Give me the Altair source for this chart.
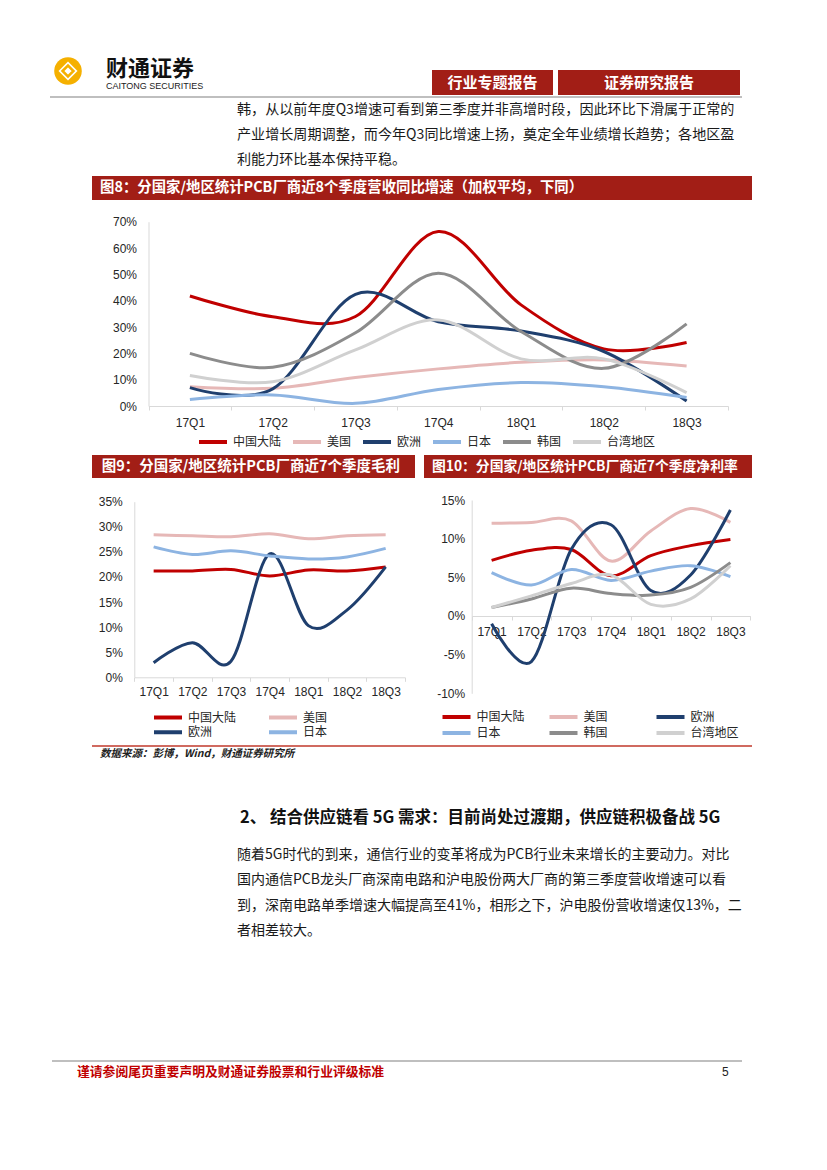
import altair as alt
import pandas as pd

# ---------------- data ----------------
quarters = ["17Q1", "17Q2", "17Q3", "17Q4", "18Q1", "18Q2", "18Q3"]
series6 = ["中国大陆", "美国", "欧洲", "日本", "韩国", "台湾地区"]
series4 = ["中国大陆", "美国", "欧洲", "日本"]

# Fig 8: revenue YoY growth (%)
rev_cn = [41.8, 33.9, 34.0, 66.3, 38.4, 21.7, 24.1]
rev_us = [7.3, 6.7, 10.8, 14.1, 16.6, 17.5, 15.2]
rev_eu = [7.0, 6.5, 42.4, 32.0, 28.5, 20.7, 1.9]
rev_jp = [2.5, 4.2, 1.0, 6.3, 8.9, 7.3, 3.2]
rev_kr = [20.0, 14.7, 27.8, 50.4, 28.3, 14.3, 31.2]
rev_tw = [11.6, 9.2, 21.3, 32.7, 17.9, 17.9, 5.1]

# Fig 9: gross margin (%)
gm_cn = [21.2, 21.2, 21.5, 20.2, 21.4, 21.2, 22.0]
gm_us = [28.4, 28.2, 28.0, 28.6, 27.6, 28.2, 28.4]
gm_eu = [2.9, 6.9, 3.2, 24.6, 10.3, 13.4, 22.0]
gm_jp = [26.0, 24.5, 25.2, 24.2, 23.6, 24.0, 25.7]

# Fig 10: net margin (%)
nm_cn = [7.2, 8.5, 8.6, 5.2, 7.8, 9.1, 9.9]
nm_us = [12.0, 12.1, 12.3, 7.1, 11.0, 13.9, 12.1]
nm_eu = [-1.0, -5.9, 8.6, 11.8, 3.3, 5.3, 13.7]
nm_jp = [5.6, 4.0, 6.0, 4.6, 5.8, 6.5, 5.1]
nm_kr = [1.1, 2.2, 3.6, 2.9, 2.7, 3.7, 6.9]
nm_tw = [1.1, 2.6, 4.2, 5.3, 1.5, 2.2, 6.5]

ticks8 = [0, 10, 20, 30, 40, 50, 60, 70]
ticks9 = [0, 5, 10, 15, 20, 25, 30, 35]
ticks10 = [-10, -5, 0, 5, 10, 15]

# ---------------- texts ----------------
brand_cn = "财通证券"
brand_en = "CAITONG SECURITIES"
tag1 = "行业专题报告"
tag2 = "证券研究报告"
para1 = [
    "韩，从以前年度Q3增速可看到第三季度并非高增时段，因此环比下滑属于正常的",
    "产业增长周期调整，而今年Q3同比增速上扬，奠定全年业绩增长趋势；各地区盈",
    "利能力环比基本保持平稳。",
]
title8 = "图8：分国家/地区统计PCB厂商近8个季度营收同比增速（加权平均，下同）"
title9 = "图9：分国家/地区统计PCB厂商近7个季度毛利"
title10 = "图10：分国家/地区统计PCB厂商近7个季度净利率"
source = "数据来源：彭博，Wind，财通证券研究所"
heading2 = "2、 结合供应链看 5G 需求：目前尚处过渡期，供应链积极备战 5G"
para2 = [
    "随着5G时代的到来，通信行业的变革将成为PCB行业未来增长的主要动力。对比",
    "国内通信PCB龙头厂商深南电路和沪电股份两大厂商的第三季度营收增速可以看",
    "到，深南电路单季增速大幅提高至41%，相形之下，沪电股份营收增速仅13%，二",
    "者相差较大。",
]
footer = "谨请参阅尾页重要声明及财通证券股票和行业评级标准"
page_no = "5"

# ---------------- styles ----------------
W, H = 811, 1154
CJK = "Noto Sans CJK SC"
NARROW = "Liberation Sans Narrow, Arial Narrow, Liberation Sans"
LAT = "Liberation Sans, Arial"
RED_BAR = "#A21E16"
GRID = "#D9D9D9"
LAB = "#262626"
TXT = "#1a1a1a"
colors6 = ["#C00000", "#E6B8B7", "#1F3F6E", "#8DB4E2", "#8C8C8C", "#D0D0D0"]
colors4 = colors6[:4]

dummy = alt.InlineData(values=[{"k": 0}])


def text_mark(s, x, y, size=14, color=TXT, weight="normal", align="left",
              font=CJK, style="normal"):
    return alt.Chart(dummy).mark_text(
        text=s, align=align, baseline="middle", fontSize=size, font=font,
        fontWeight=weight, color=color, fontStyle=style
    ).encode(x=alt.value(x), y=alt.value(y))


def rect_mark(x1, x2, y1, y2, color):
    return alt.Chart(dummy).mark_rect(color=color).encode(
        x=alt.value(x1), x2=alt.value(x2), y=alt.value(y1), y2=alt.value(y2))


def rule_mark(x1, x2, y, color, width):
    return alt.Chart(dummy).mark_rule(color=color, strokeWidth=width).encode(
        x=alt.value(x1), x2=alt.value(x2), y=alt.value(y))


def symbol_mark(x, y, shape, size, fill=None, stroke=None, sw=0):
    kw = dict(shape=shape, size=size, opacity=1)
    if fill:
        kw["fill"] = fill
        kw["filled"] = True
    if stroke:
        kw["stroke"] = stroke
        kw["strokeWidth"] = sw
    if not fill:
        kw["filled"] = False
        kw["fillOpacity"] = 0
    return alt.Chart(dummy).mark_point(**kw).encode(x=alt.value(x), y=alt.value(y))


def long_df(names, arrays):
    rows = []
    for name, arr in zip(names, arrays):
        for q, v in zip(quarters, arr):
            rows.append({"q": q, "s": name, "v": v})
    return pd.DataFrame(rows)


def line_chart(df, names, cols, xr, yr, ydom, yticks, x_axis_y, y_axis_x,
               xlab_pad, ylab_pad, lab_font, legend):
    return alt.Chart(df).mark_line(
        interpolate="cardinal", tension=0, strokeWidth=3
    ).encode(
        x=alt.X("q:N", bandPosition=0.5, sort=quarters,
                scale=alt.Scale(type="band", domain=quarters, range=xr,
                                paddingInner=0, paddingOuter=0),
                axis=alt.Axis(orient="bottom", offset=x_axis_y - H, title=None,
                              labelAngle=0, tickBand="extent", tickSize=4,
                              tickColor=GRID, domainColor=GRID, domainWidth=1,
                              labelPadding=xlab_pad, labelFont=lab_font,
                              labelFontSize=12, labelColor=LAB, grid=False)),
        y=alt.Y("v:Q",
                scale=alt.Scale(domain=ydom, range=yr, nice=False, zero=False),
                axis=alt.Axis(orient="left", offset=-y_axis_x, title=None,
                              values=yticks, labelExpr="datum.value + '%'",
                              ticks=False, grid=False, domainColor=GRID,
                              domainWidth=1, labelPadding=ylab_pad,
                              labelFont=lab_font, labelFontSize=12,
                              labelColor=LAB)),
        color=alt.Color("s:N", sort=names,
                        scale=alt.Scale(domain=names, range=cols),
                        legend=legend),
    )


def legend(x, y, cols, colpad, clip, grid_align):
    return alt.Legend(orient="none", legendX=x, legendY=y, direction="horizontal",
                      columns=cols, gridAlign=grid_align, title=None,
                      symbolType="stroke", symbolSize=784, symbolStrokeWidth=4,
                      labelFont=CJK, labelFontSize=12, labelColor=LAB,
                      labelOffset=4, columnPadding=colpad, rowPadding=0,
                      clipHeight=clip, padding=0)


layers = []

# ---------------- header ----------------
layers.append(symbol_mark(60, 63, "circle", 760, fill="#F5B000"))
layers.append(symbol_mark(60, 63, "diamond", 360, fill="white"))
layers.append(symbol_mark(60, 63, "diamond", 120, stroke="#F5B000", sw=2.5))
layers.append(text_mark(brand_cn, 98, 61, size=22, weight="bold", color="#111111"))
layers.append(text_mark(brand_en, 98, 78, size=9, font=LAT, color="#222222"))
layers.append(rect_mark(424, 545, 62, 87, RED_BAR))
layers.append(rect_mark(550, 732, 62, 87, RED_BAR))
layers.append(text_mark(tag1, 484.5, 74.5, size=15, weight="bold", color="white", align="center"))
layers.append(text_mark(tag2, 641, 74.5, size=15, weight="bold", color="white", align="center"))
layers.append(rule_mark(42, 734, 89, "#BFBFBF", 2))

for i, line in enumerate(para1):
    layers.append(text_mark(line, 229, 102 + 25 * i, size=14.1))

# ---------------- figure title bars ----------------
layers.append(rect_mark(84, 744, 168, 192, RED_BAR))
layers.append(text_mark(title8, 92, 180, size=14.4, weight="bold", color="white"))
layers.append(rect_mark(84, 407, 447, 470, RED_BAR))
layers.append(text_mark(title9, 93.7, 458.5, size=14.5, weight="bold", color="white"))
layers.append(rect_mark(416, 744, 447, 470, RED_BAR))
layers.append(text_mark(title10, 424, 458.5, size=13.8, weight="bold", color="white"))

# ---------------- charts ----------------
df8 = long_df(series6, [rev_cn, rev_us, rev_eu, rev_jp, rev_kr, rev_tw])
df9 = long_df(series4, [gm_cn, gm_us, gm_eu, gm_jp])
df10 = long_df(series6, [nm_cn, nm_us, nm_eu, nm_jp, nm_kr, nm_tw])

c8 = line_chart(df8, series6, colors6, [140.5, 720], [398, 213.7], [0, 70], ticks8,
                398, 140.5, 7, 12, NARROW,
                legend(189, 427, 6, 9, 14, "each"))
c9 = line_chart(df9, series4, colors4, [126.3, 397], [669.3, 493.7], [0, 35], ticks9,
                669.3, 126.3, 5, 12, NARROW,
                legend(144, 702, 2, 30, 14.5, "all"))
c10 = line_chart(df10, series6, colors6, [463.7, 742.3], [685.3, 492], [-10, 15], ticks10,
                 608, 463.7, 6, 7, LAT,
                 legend(432.5, 701, 3, 22, 16, "all"))
layers += [c8, c9, c10]

# ---------------- source & body ----------------
layers.append(rule_mark(84, 744, 738, "#C0392B", 1.5))
layers.append(text_mark(source, 92, 745.5, size=10.5, weight="bold", style="italic", color="#222222"))
layers.append(text_mark(heading2, 232, 810, size=16.5, weight="bold", color="#111111"))
for i, line in enumerate(para2):
    layers.append(text_mark(line, 229, 847 + 25.3 * i, size=14))

# ---------------- footer ----------------
layers.append(rule_mark(44, 734, 1053, "#BFBFBF", 2))
layers.append(text_mark(footer, 69, 1064, size=12.8, weight="bold", color="#C00000"))
layers.append(text_mark(page_no, 714, 1064, size=12, font=LAT, color="#222222"))

chart = alt.layer(*layers).resolve_scale(
    x="independent", y="independent", color="independent"
).properties(
    width=W, height=H, autosize=alt.AutoSizeParams(type="none"), padding=0,
    background="white"
).configure_view(strokeWidth=0)

chart.save("out.html", embed_options={"renderer": "svg", "actions": False})
